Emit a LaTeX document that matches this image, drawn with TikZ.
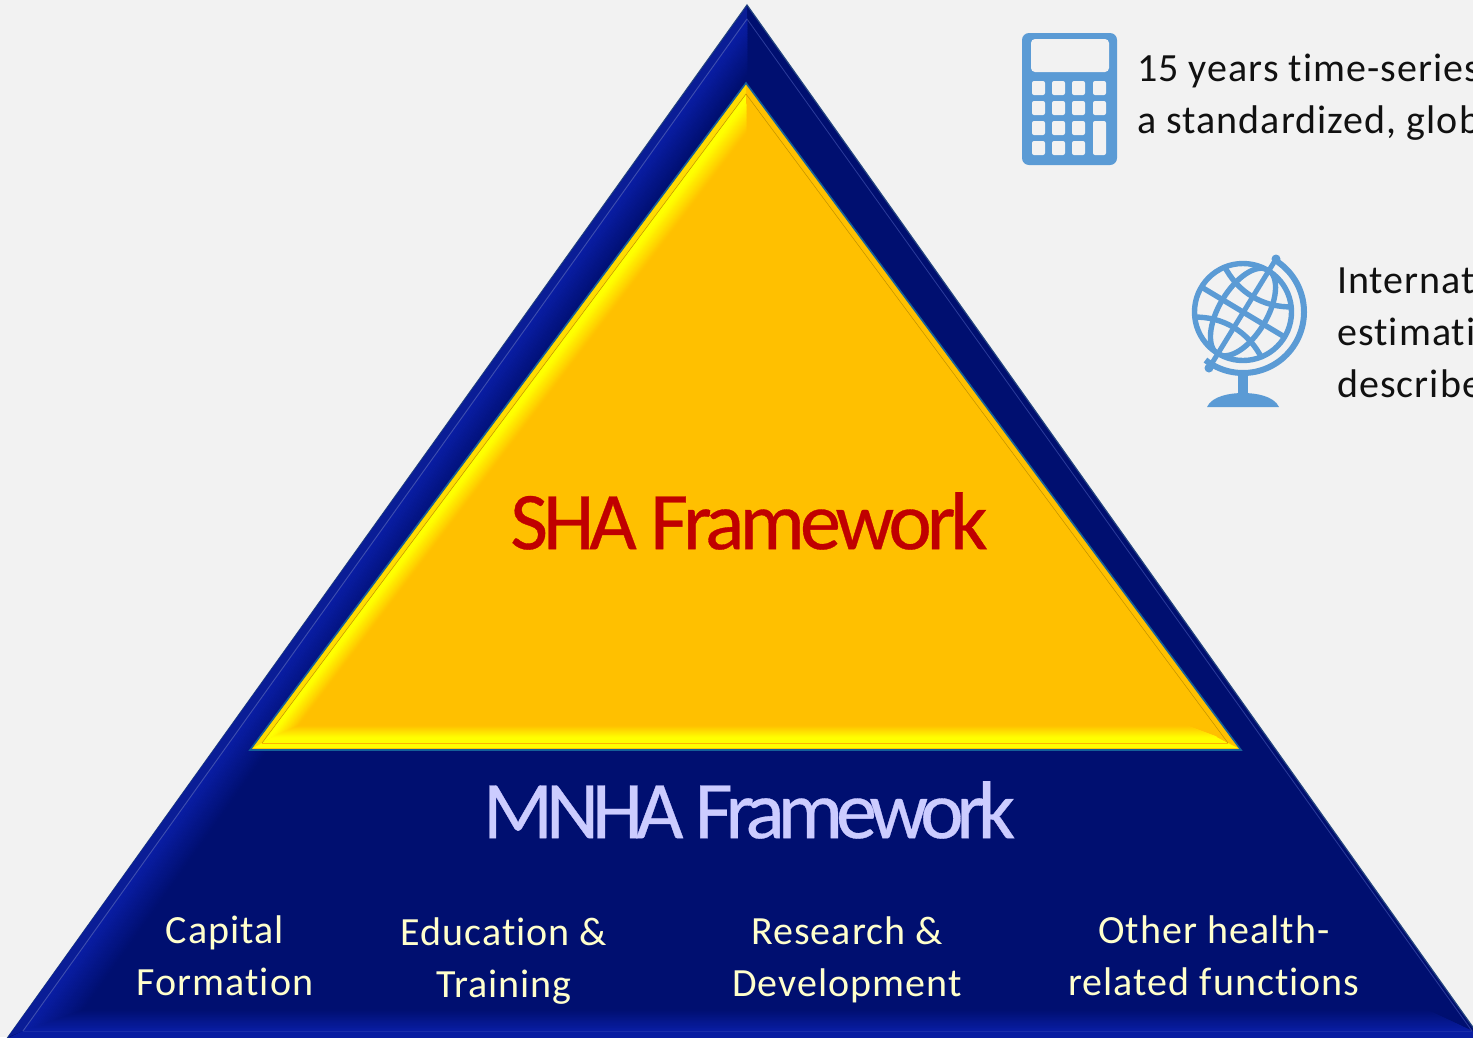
\documentclass[tikz,border=0pt]{standalone}
\usepackage{fontspec}
\setmainfont[LetterSpace=2.6,Ligatures=NoCommon]{Carlito}
\newfontfamily\shafont[LetterSpace=-6.0,FakeBold=0.4]{Carlito}
\newfontfamily\mnhafont[LetterSpace=-8.6,FakeBold=0.4]{Carlito}
\definecolor{bgc}{HTML}{F2F2F2}
\definecolor{navy}{HTML}{000F70}
\definecolor{lblue}{HTML}{0A1EA6}
\definecolor{rimblue}{HTML}{0A1D96}
\definecolor{edgeb}{HTML}{24457F}
\definecolor{hair}{HTML}{3F4FAE}
\definecolor{gold}{HTML}{FFC000}
\definecolor{yel}{HTML}{FFFF00}
\definecolor{rimb}{HTML}{14609A}
\definecolor{calc}{HTML}{5B9BD5}
\definecolor{cream}{HTML}{FFFFCC}
\definecolor{lav}{HTML}{CCCCFF}
\definecolor{redt}{HTML}{C00000}
\definecolor{ink}{HTML}{111111}
% band between edge A-B (colour c1) and edge D-C (colour c2), painted as thin strips
\newcommand{\bevelband}[6]{%
  \foreach \i in {0,...,23}{%
    \pgfmathsetmacro{\ta}{\i/24}%
    \pgfmathsetmacro{\tb}{(\i+1)/24}%
    \pgfmathtruncatemacro{\pc}{100-100*(\i+0.5)/24}%
    \fill[#5!\pc!#6,draw=#5!\pc!#6,line width=.5pt]
      ($#1!\ta!#4$) -- ($#2!\ta!#3$) -- ($#2!\tb!#3$) -- ($#1!\tb!#4$) -- cycle;
  }}
\usetikzlibrary{calc}
\tikzset{
  lbl/.style={font=\fontsize{40}{52}\selectfont,text=cream,align=center,inner sep=0pt},
  side/.style={font=\fontsize{40}{52}\selectfont,text=ink,align=left,anchor=west,inner sep=0pt},
  icon/.style={line width=5.4pt,draw=calc},
}
\begin{document}
\begin{tikzpicture}[x=1pt,y=-1pt]
\useasboundingbox (0,0) rectangle (1473,1037);
\clip (0,0) rectangle (1473,1037);
\fill[bgc] (0,0) rectangle (1473,1037);
% outer triangle
\fill[navy,draw=edgeb,line width=1.2pt,line join=miter] (747,5) -- (6,1040) -- (1482,1040) -- cycle;
\fill[rimblue] (747,6) -- (8,1037) -- (23,1031) -- (747,19) -- cycle;
\fill[lblue!90!navy] (8,1038) -- (1480,1038) -- (1472,1031) -- (23,1031) -- cycle;
\bevelband{(747,19)}{(23,1031)}{(86,1009)}{(747,78)}{lblue}{navy}
\bevelband{(23,1031)}{(1472,1031)}{(1425,1009)}{(86,1009)}{lblue}{navy}
\draw[hair,line width=.9pt] (23,1031) -- (747,19);
\draw[hair!70!navy,line width=.8pt] (747,19) -- (1472,1031);
\draw[lblue!70!hair,line width=.9pt] (23,1031) -- (1472,1031);
% yellow triangle
\fill[gold,draw=rimb,line width=1.6pt] (746,83) -- (250,750) -- (1241,750) -- cycle;
\fill[yel!45!gold] (746,85) -- (253,748) -- (262,743) -- (746,94) -- cycle;
\fill[yel] (253,748) -- (1238,748) -- (1228,743) -- (262,743) -- cycle;
\fill[yel] (746,94) -- (262,743) -- (272,737) -- (746,103) -- cycle;
\fill[yel] (262,743) -- (1228,743) -- (1217,737) -- (272,737) -- cycle;
\bevelband{(746,103)}{(272,737)}{(300,725)}{(746,135)}{yel}{gold}
\bevelband{(272,737)}{(1217,737)}{(1185,725)}{(300,725)}{yel}{gold}
\fill[gold] (746,103) -- (1217,737) -- (1228,743) -- (746,94) -- cycle;
\draw[gold!75!black,line width=.5pt] (262,743) -- (746,94) -- (1228,743);
\draw[orange!60!yellow,line width=1pt] (262,743) -- (1228,743);
% titles
\node[font=\shafont\fontsize{82}{90}\selectfont,text=redt,inner sep=0pt] (sha) at (749,521) {SHA Framework};
\node[font=\mnhafont\fontsize{82}{90}\selectfont,text=lav,inner sep=0pt] (mnha) at (749,810) {MNHA Framework};
% bottom labels
\node[lbl] (cap) at (225,956) {Capital\\Formation};
\node[lbl] (edu) at (504,961) {Education \&\\Training};
\node[lbl] (res) at (847,960) {Research \&\\Development};
\node[lbl] (oth) at (1214,956) {Other health-\\related functions};
% side texts
\node[side] (t1) at (1137,97) {15 years time-series\\a standardized, glob};
\node[side] (t2) at (1337,333) {Internat\\estimati\\describe};
% calculator
\fill[calc] (1022,33) [rounded corners=7pt] rectangle (1117,165);
\fill[bgc,rounded corners=4pt] (1031,39) rectangle (1109,72);
\foreach \x in {1032,1052,1072,1093}{\foreach \y in {81,101}{\fill[bgc,rounded corners=2pt] (\x,\y) rectangle ++(13,14);}}
\foreach \x in {1032,1052,1072}{\foreach \y in {121,141}{\fill[bgc,rounded corners=2pt] (\x,\y) rectangle ++(13,14);}}
\fill[bgc,rounded corners=2pt] (1093,121) rectangle (1106,155);
% globe
\begin{scope}[shift={(1243,312)}]
\begin{scope}
\path[clip] (0,0) circle (49);
\begin{scope}[rotate=-31]
\draw[icon] (0,0) ellipse (24 and 49);
\draw[icon] (-50,0) -- (50,0);
\draw[icon] (-40,-30) .. controls (-15,-14) and (15,-14) .. (40,-30);
\draw[icon] (-40,30) .. controls (-15,14) and (15,14) .. (40,30);
\end{scope}
\end{scope}
\draw[icon] (0,0) circle (48.5);
\draw[calc,line width=5pt] (-34,56) -- (33,-53);
\fill[calc] (-34,56) circle (4.5);
\fill[calc] (33,-53) circle (4.5);
\draw[calc,line width=6pt] plot[domain=-56:128,samples=60,smooth] ({61*cos(\x)},{61*sin(\x)});
\end{scope}
\fill[calc] (1238,372) rectangle (1248,395);
\fill[calc] (1207,407) .. controls (1212,396) and (1230,393) .. (1243,393) .. controls (1256,393) and (1274,396) .. (1279,407) -- cycle;
\end{tikzpicture}
\end{document}
